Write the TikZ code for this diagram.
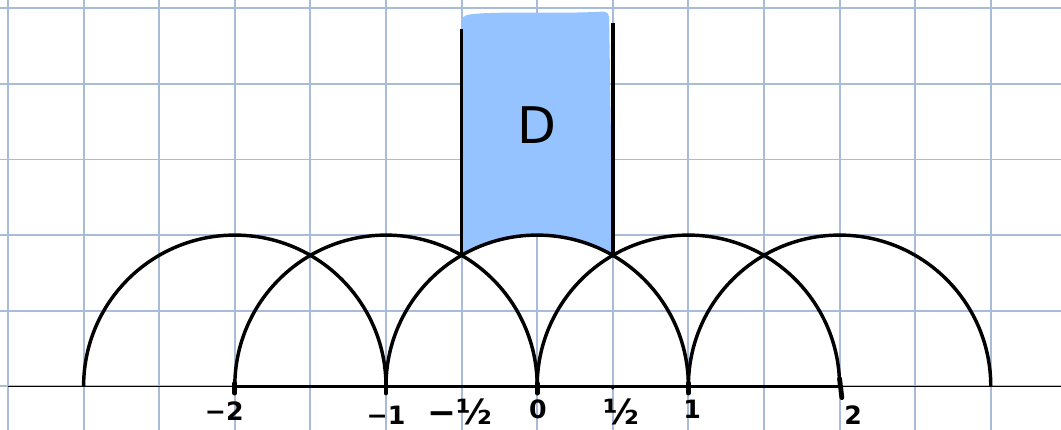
\documentclass[tikz,border=0pt]{standalone}
\usepackage{fontspec}
\newfontfamily\labfont{DejaVu Sans}
\definecolor{gridc}{RGB}{168,188,218}
\definecolor{fillc}{RGB}{149,195,255}
\tikzset{
  gridline/.style={draw=gridc, line width=0.7pt},
  axthin/.style={draw=black, line width=0.55pt},
  axthick/.style={draw=black, line width=1.2pt},
  arcline/.style={draw=black, line width=1.3pt},
  sideline/.style={draw=black, line width=1.4pt},
  tickmark/.style={draw=black, line width=1.8pt, line cap=round},
  lab/.style={font=\labfont\bfseries\fontsize{9.5}{10}\selectfont, inner sep=0pt},
  fraclab/.style={font=\labfont\bfseries\fontsize{13}{14}\selectfont, inner sep=0pt}
}
\begin{document}
\begin{tikzpicture}
\useasboundingbox (-7.106,-0.578) rectangle (6.929,5.110);
\fill[white] (-7.106,-0.578) rectangle (6.929,5.110);
% grid
\draw[gridline] (-7.106,-0.578) grid (6.929,5.110);
% domain fill
\fill[fillc, rounded corners=2pt] (-1,1.732) -- (-1,4.90) .. controls (-0.6,4.97) and (0.2,4.92) .. (0.95,4.96) -- (1,1.732) [sharp corners] arc (60:120:2) -- cycle;
% axis
\draw[axthin] (-7.0,0) -- (6.929,0);
\draw[axthick] (-4,0) -- (4,0);
% semicircles
\foreach \c in {-4,-2,0,2,4} {
  \draw[arcline] (\c+2,0) arc (0:180:2);
}
% sides
\coordinate (lt) at (-1,4.72);
\coordinate (lb) at (-1,1.732);
\coordinate (rt) at (1,4.81);
\coordinate (rb) at (1,1.732);
\draw[sideline] (lt) -- (lb);
\draw[sideline] (rt) -- (rb);
% ticks
\foreach \c in {-4,-2,0,2} {
  \draw[tickmark] (\c,-0.09) -- (\c,0.04);
}
\draw[tickmark] (4.0,0.1) -- (4.03,-0.15);
\fill (1,-0.02) circle (0.025);
% labels
\node[font=\labfont\fontsize{19}{22}\selectfont, inner sep=0pt] (D) at (0,3.46) {D};
\node[lab] (m2) at (-4.14,-0.33) {−2};
\node[lab] (m1) at (-2.0,-0.38) {−1};
\node[fraclab] (mh) at (-1.02,-0.34) {−½};
\node[lab] (z) at (0.01,-0.31) {0};
\node[fraclab] (ph) at (1.12,-0.34) {½};
\node[lab] (p1) at (2.05,-0.31) {1};
\node[lab] (p2) at (4.18,-0.38) {2};
\end{tikzpicture}
\end{document}
